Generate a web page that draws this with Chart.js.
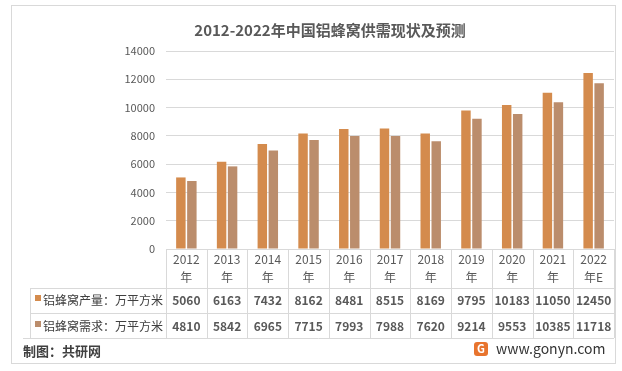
<!DOCTYPE html>
<html>
<head>
<meta charset="utf-8">
<script src="https://cdn.jsdelivr.net/npm/chart.js@4/dist/chart.umd.min.js"></script>
<style>
  body { margin: 0; background: #fff; }
  canvas { display: block; }
</style>
</head>
<body>
<canvas id="myChart" width="622" height="371"></canvas>
<script>
const title = '2012-2022年中国铝蜂窝供需现状及预测'
const categories = [['2012', '年'], ['2013', '年'], ['2014', '年'], ['2015', '年'], ['2016', '年'], ['2017', '年'],
                    ['2018', '年'], ['2019', '年'], ['2020', '年'], ['2021', '年'], ['2022', '年E']]
const seriesNames = ['铝蜂窝产量：万平方米', '铝蜂窝需求：万平方米']
const supply = [5060, 6163, 7432, 8162, 8481, 8515, 8169, 9795, 10183, 11050, 12450]
const demand = [4810, 5842, 6965, 7715, 7993, 7988, 7620, 9214, 9553, 10385, 11718]
const yTicks = [0, 2000, 4000, 6000, 8000, 10000, 12000, 14000]
const colors = ['#D48B4D', '#BB8D6C']
const FONT = '"Noto Sans CJK SC", "Noto Sans", sans-serif'

// 표 + 제목 + 하단 문구 그리기
const tablePlugin = {
    id: 'tablePlugin',
    afterDraw(chart) {
        const ctx = chart.ctx
        const x = chart.scales.x
        const area = chart.chartArea
        const colW = x.width / categories.length
        const top = area.bottom
        const rows = [top, 288, 313, 338]
        ctx.save()
        ctx.strokeStyle = '#D9D9D9'
        ctx.lineWidth = 1
        // 테두리
        ctx.strokeRect(11.5, 5.5, 604, 358)
        // 세로선
        for (let i = 0; i <= categories.length; i++) {
            const px = Math.round(area.left + colW * i) + 0.5
            ctx.beginPath(); ctx.moveTo(px, top); ctx.lineTo(px, rows[3]); ctx.stroke()
        }
        ctx.beginPath(); ctx.moveTo(30.5, rows[1]); ctx.lineTo(30.5, rows[3]); ctx.stroke()
        // 가로선
        ctx.beginPath(); ctx.moveTo(30, rows[1] + 0.5); ctx.lineTo(area.right, rows[1] + 0.5); ctx.stroke()
        ctx.beginPath(); ctx.moveTo(30, rows[2] + 0.5); ctx.lineTo(area.right, rows[2] + 0.5); ctx.stroke()
        ctx.beginPath(); ctx.moveTo(23, rows[3] + 0.5); ctx.lineTo(area.right, rows[3] + 0.5); ctx.stroke()

        ctx.textAlign = 'center'
        ctx.textBaseline = 'middle'
        // 헤더
        ctx.fillStyle = '#595959'
        ctx.font = `12px ${FONT}`
        categories.forEach((lines, i) => {
            const cx = x.getPixelForValue(i)
            ctx.fillText(lines[0], cx, 259)
            ctx.fillText(lines[1], cx, 277)
        })
        // 값
        ctx.font = `bold 12px ${FONT}`
        const series = [supply, demand]
        series.forEach((vals, r) => {
            const cy = r === 0 ? 300 : 326
            vals.forEach((v, i) => ctx.fillText(String(v), x.getPixelForValue(i), cy))
            // 범례
            ctx.fillStyle = colors[r]
            ctx.fillRect(35, cy - 5, 6, 6)
            ctx.fillStyle = '#404040'
            ctx.textAlign = 'left'
            ctx.font = `12px ${FONT}`
            ctx.fillText(seriesNames[r], 43, cy)
            ctx.textAlign = 'center'
            ctx.font = `bold 12px ${FONT}`
            ctx.fillStyle = '#595959'
        })
        // 제목
        ctx.fillStyle = '#595959'
        ctx.font = `bold 15px ${FONT}`
        ctx.fillText(title, 330, 30)
        // 하단
        ctx.textAlign = 'left'
        ctx.fillStyle = '#404040'
        ctx.font = `bold 13px ${FONT}`
        ctx.fillText('制图：共研网', 23, 351)
        ctx.fillStyle = '#E8742E'
        ctx.beginPath(); ctx.roundRect(474, 342, 14, 14, 3); ctx.fill()
        ctx.fillStyle = '#fff'
        ctx.font = `bold 11px ${FONT}`
        ctx.textAlign = 'center'
        ctx.fillText('G', 481, 349)
        ctx.textAlign = 'left'
        ctx.fillStyle = '#333333'
        ctx.font = `14px ${FONT}`
        ctx.fillText('www.gonyn.com', 496, 349)
        ctx.restore()
    }
}

const ctx = document.getElementById('myChart')
new Chart(ctx, {
    type: 'bar',
    data: {
        labels: categories.map(c => c.join('')),
        datasets: [{
            label: seriesNames[0],
            data: supply,
            backgroundColor: colors[0],
            categoryPercentage: 0.54,
            barPercentage: 0.86
        }, {
            label: seriesNames[1],
            data: demand,
            backgroundColor: colors[1],
            categoryPercentage: 0.54,
            barPercentage: 0.86
        }]
    },
    options: {
        responsive: false,
        animation: false,
        layout: { padding: { left: 0, top: 51, right: 8, bottom: 122 } },
        scales: {
            x: { display: false },
            y: {
                min: 0,
                max: 14000,
                afterBuildTicks: scale => { scale.ticks = yTicks.map(v => ({ value: v })) },
                afterFit: scale => { scale.width = 166 },
                border: { display: false },
                grid: { color: '#D9D9D9', drawTicks: false },
                ticks: {
                    padding: 11,
                    color: '#595959',
                    font: { family: FONT, size: 11 },
                    callback: v => String(v)
                }
            }
        },
        plugins: {
            legend: { display: false },
            title: { display: false },
            tooltip: { enabled: false }
        }
    },
    plugins: [tablePlugin]
})
</script>
</body>
</html>
